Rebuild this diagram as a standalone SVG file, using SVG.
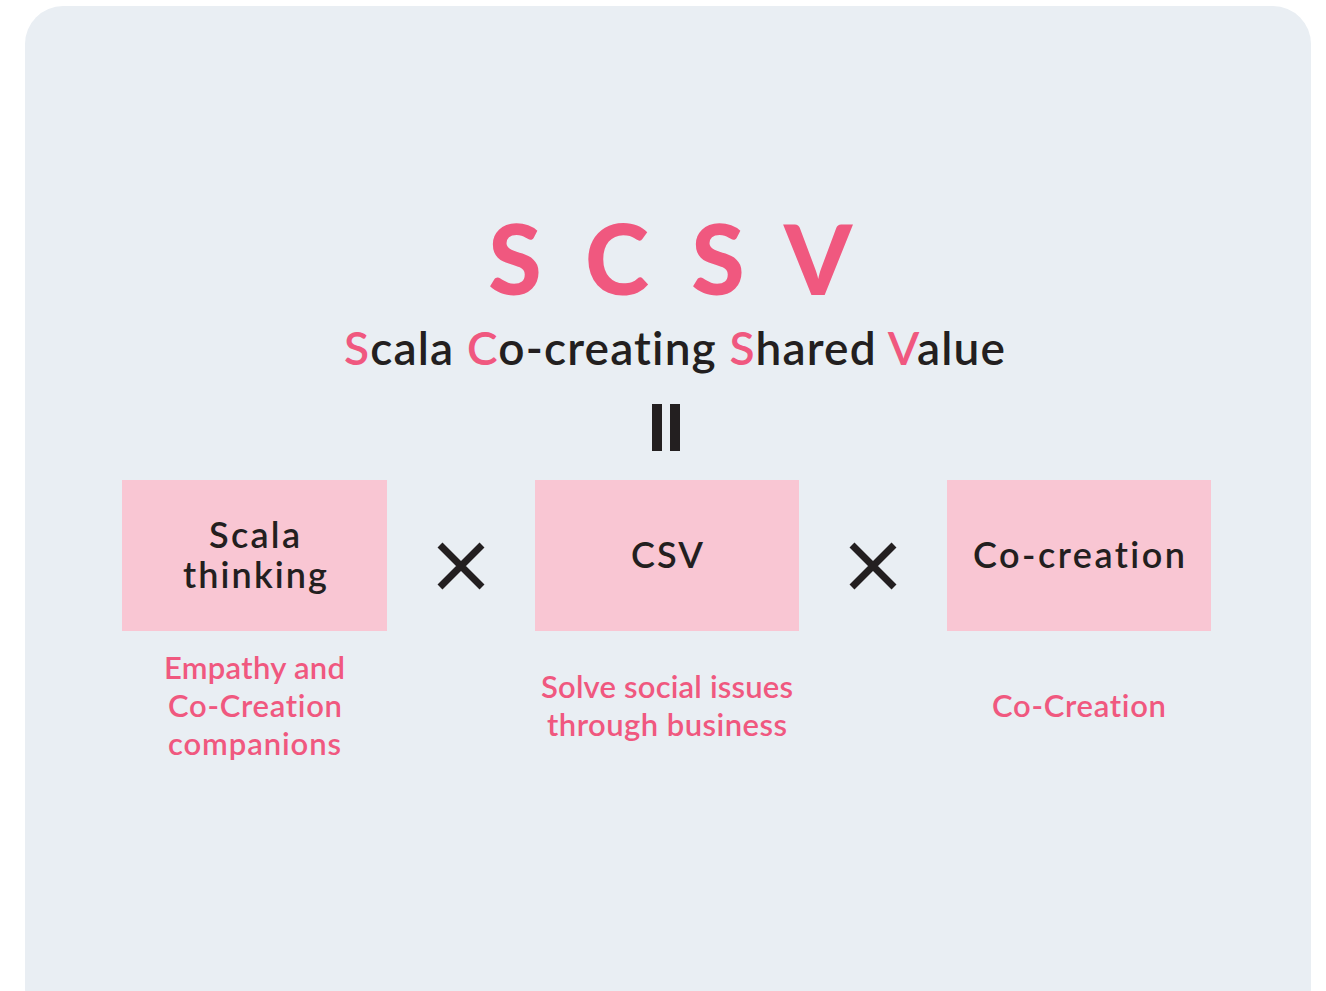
<svg xmlns="http://www.w3.org/2000/svg" width="1326" height="991" viewBox="0 0 1326 991">
<style>
.bg{fill:#ffffff}
.panel{fill:#e9eef3}
.box{fill:#f9c6d3}
.pink{fill:#f0587f}
.dark{fill:#231f20}
.t{font-family:Lato,"Noto Sans","Liberation Sans",sans-serif;text-anchor:middle;font-variant-ligatures:none}
.big{font-size:97px;font-weight:900}
.sub{font-size:46px;font-weight:600}
.boxt{font-size:36px;font-weight:600}
.desc{font-size:31px;font-weight:600}
.x{stroke:#231f20;stroke-width:7;stroke-linecap:butt}
</style>
<rect class="bg" x="0" y="0" width="1326" height="991"/>
<rect class="panel" x="25" y="6" width="1286" height="1020" rx="38" ry="38"/>
<g id="title">
<text class="t big pink" x="515" y="295">S</text>
<text class="t big pink" x="617" y="295">C</text>
<text class="t big pink" x="718" y="295">S</text>
<text class="t big pink" x="818" y="295">V</text>
</g>
<g id="subtitle">
<text class="t sub dark" x="674.5" y="365" textLength="661" lengthAdjust="spacing"><tspan class="pink">S</tspan>cala <tspan class="pink">C</tspan>o-creating <tspan class="pink">S</tspan>hared <tspan class="pink">V</tspan>alue</text>
</g>
<g id="equals">
<rect class="dark" x="652" y="404" width="10" height="47"/>
<rect class="dark" x="670" y="404" width="10" height="47"/>
</g>
<g id="node-scala">
<rect class="box" x="122" y="480" width="265" height="151"/>
<text class="t boxt dark" x="254.5" y="548" textLength="91" lengthAdjust="spacing">Scala</text>
<text class="t boxt dark" x="255" y="588" textLength="144" lengthAdjust="spacing">thinking</text>
<text class="t desc pink" x="254.5" y="679" textLength="181" lengthAdjust="spacing">Empathy and</text>
<text class="t desc pink" x="255" y="717" textLength="174" lengthAdjust="spacing">Co-Creation</text>
<text class="t desc pink" x="254.5" y="755" textLength="173" lengthAdjust="spacing">companions</text>
</g>
<g id="node-csv">
<rect class="box" x="535" y="480" width="264" height="151"/>
<text class="t boxt dark" x="667" y="568" textLength="72" lengthAdjust="spacing">CSV</text>
<text class="t desc pink" x="667" y="698" textLength="252" lengthAdjust="spacing">Solve social issues</text>
<text class="t desc pink" x="667" y="736" textLength="240" lengthAdjust="spacing">through business</text>
</g>
<g id="node-cocreation">
<rect class="box" x="947" y="480" width="264" height="151"/>
<text class="t boxt dark" x="1079" y="568" textLength="212" lengthAdjust="spacing">Co-creation</text>
<text class="t desc pink" x="1079" y="717" textLength="174" lengthAdjust="spacing">Co-Creation</text>
</g>
<g id="connectors">
<path class="x" d="M440 545 L482 587 M482 545 L440 587"/>
<path class="x" d="M852 545 L894 587 M894 545 L852 587"/>
</g>
</svg>
